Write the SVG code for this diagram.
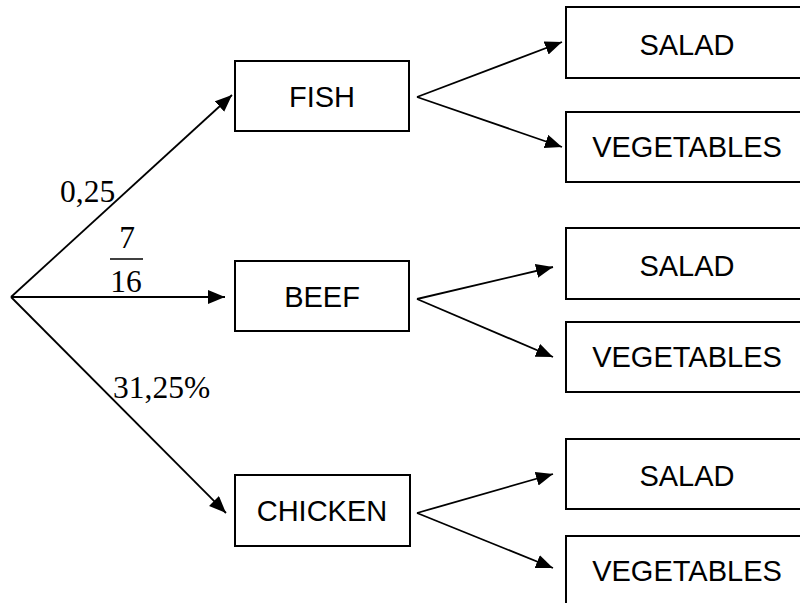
<svg xmlns="http://www.w3.org/2000/svg" width="800" height="603" viewBox="0 0 800 603">
<style>
.box{fill:#fff;stroke:#000;stroke-width:2}
.lbl{font-family:"Liberation Sans",Arial,sans-serif;font-size:29px;fill:#000;text-anchor:middle}
.num{font-family:"Liberation Serif","Times New Roman",serif;font-size:31.5px;fill:#000}
.con{stroke:#000;stroke-width:1.8;fill:none}
</style>
<defs>
<marker id="ah" markerUnits="userSpaceOnUse" markerWidth="18" markerHeight="15" refX="17" refY="7" orient="auto">
<path d="M0,0 L17,7 L0,14 z" fill="#000"/>
</marker>
</defs>
<rect width="800" height="603" fill="#fff"/>
<g id="connectors">
<line class="con" x1="11" y1="297" x2="232" y2="95" marker-end="url(#ah)"/>
<line class="con" x1="11" y1="297" x2="225" y2="297" marker-end="url(#ah)"/>
<line class="con" x1="11" y1="297" x2="226" y2="513" marker-end="url(#ah)"/>
<line class="con" x1="417" y1="97" x2="562" y2="42" marker-end="url(#ah)"/>
<line class="con" x1="417" y1="97" x2="562" y2="147" marker-end="url(#ah)"/>
<line class="con" x1="417" y1="299" x2="553" y2="267" marker-end="url(#ah)"/>
<line class="con" x1="417" y1="299" x2="553" y2="357" marker-end="url(#ah)"/>
<line class="con" x1="417" y1="513" x2="553" y2="474" marker-end="url(#ah)"/>
<line class="con" x1="417" y1="513" x2="553" y2="568" marker-end="url(#ah)"/>
</g>
<g id="labels">
<text class="num" x="60" y="202">0,25</text>
<text class="num" x="127" y="248" text-anchor="middle">7</text>
<line x1="110" y1="259" x2="143" y2="259" stroke="#000" stroke-width="1.6"/>
<text class="num" x="126" y="292" text-anchor="middle">16</text>
<text class="num" x="113" y="398">31,25%</text>
</g>
<g id="fish"><rect class="box" x="235" y="61" width="174" height="70"/><text class="lbl" x="322" y="107">FISH</text></g>
<g id="beef"><rect class="box" x="235" y="261" width="174" height="70"/><text class="lbl" x="322" y="307">BEEF</text></g>
<g id="chicken"><rect class="box" x="235" y="475" width="175" height="71"/><text class="lbl" x="322" y="521">CHICKEN</text></g>
<g id="salad1"><rect class="box" x="566" y="7" width="242" height="71"/><text class="lbl" x="687" y="55">SALAD</text></g>
<g id="veg1"><rect class="box" x="566" y="112" width="242" height="70"/><text class="lbl" x="687" y="157">VEGETABLES</text></g>
<g id="salad2"><rect class="box" x="566" y="228" width="242" height="71"/><text class="lbl" x="687" y="276">SALAD</text></g>
<g id="veg2"><rect class="box" x="566" y="322" width="242" height="70"/><text class="lbl" x="687" y="367">VEGETABLES</text></g>
<g id="salad3"><rect class="box" x="566" y="439" width="242" height="70"/><text class="lbl" x="687" y="486">SALAD</text></g>
<g id="veg3"><rect class="box" x="566" y="536" width="242" height="71"/><text class="lbl" x="687" y="581">VEGETABLES</text></g>
</svg>
